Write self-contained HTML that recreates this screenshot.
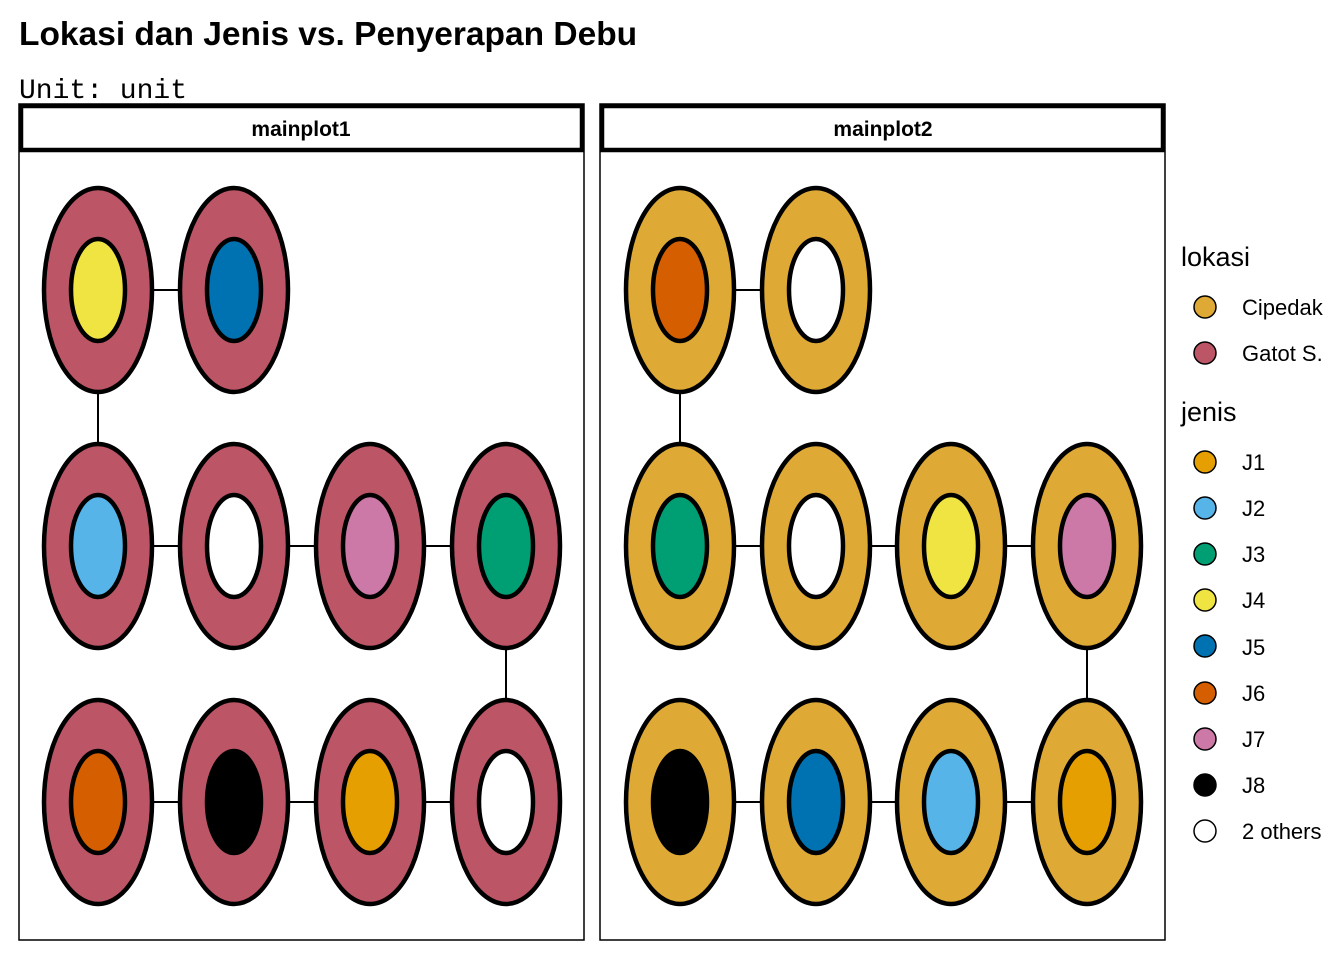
<!DOCTYPE html>
<html><head><meta charset="utf-8"><style>
html,body{margin:0;padding:0;background:#fff;}
svg{display:block;}
</style></head><body>
<svg width="1344" height="960" viewBox="0 0 1344 960" xmlns="http://www.w3.org/2000/svg">
<rect width="1344" height="960" fill="#fff"/>
<text x="19" y="45" font-family="Liberation Sans, sans-serif" font-weight="bold" font-size="33.5">Lokasi dan Jenis vs. Penyerapan Debu</text>
<text x="19" y="98" font-family="Liberation Mono, monospace" font-size="28" textLength="168" lengthAdjust="spacingAndGlyphs">Unit: unit</text>

<rect x="19" y="104" width="565" height="836" fill="none" stroke="#000" stroke-width="1.5"/>
<rect x="21" y="106" width="561" height="44" fill="#fff" stroke="#000" stroke-width="4.5"/>
<text x="301" y="136" text-anchor="middle" font-family="Liberation Sans, sans-serif" font-weight="bold" font-size="21">mainplot1</text>
<rect x="600" y="104" width="565" height="836" fill="none" stroke="#000" stroke-width="1.5"/>
<rect x="602" y="106" width="561" height="44" fill="#fff" stroke="#000" stroke-width="4.5"/>
<text x="883" y="136" text-anchor="middle" font-family="Liberation Sans, sans-serif" font-weight="bold" font-size="21">mainplot2</text>

<g stroke="#000" stroke-width="2">
<line x1="98" y1="290" x2="234" y2="290"/><line x1="98" y1="290" x2="98" y2="546"/>
<line x1="98" y1="546" x2="506" y2="546"/><line x1="506" y1="546" x2="506" y2="802"/>
<line x1="98" y1="802" x2="506" y2="802"/>
<line x1="680" y1="290" x2="816" y2="290"/><line x1="680" y1="290" x2="680" y2="546"/>
<line x1="680" y1="546" x2="1087" y2="546"/><line x1="1087" y1="546" x2="1087" y2="802"/>
<line x1="680" y1="802" x2="1087" y2="802"/>
</g>

<g stroke="#000" stroke-width="4.5">
<g fill="#BC5666">
<ellipse cx="98" cy="290" rx="54" ry="102"/><ellipse cx="234" cy="290" rx="54" ry="102"/>
<ellipse cx="98" cy="546" rx="54" ry="102"/><ellipse cx="234" cy="546" rx="54" ry="102"/><ellipse cx="370" cy="546" rx="54" ry="102"/><ellipse cx="506" cy="546" rx="54" ry="102"/>
<ellipse cx="98" cy="802" rx="54" ry="102"/><ellipse cx="234" cy="802" rx="54" ry="102"/><ellipse cx="370" cy="802" rx="54" ry="102"/><ellipse cx="506" cy="802" rx="54" ry="102"/>
</g>
<ellipse cx="98" cy="290" rx="27" ry="51" fill="#F0E442"/>
<ellipse cx="234" cy="290" rx="27" ry="51" fill="#0072B2"/>
<ellipse cx="98" cy="546" rx="27" ry="51" fill="#56B4E9"/>
<ellipse cx="234" cy="546" rx="27" ry="51" fill="#fff"/>
<ellipse cx="370" cy="546" rx="27" ry="51" fill="#CC79A7"/>
<ellipse cx="506" cy="546" rx="27" ry="51" fill="#009E73"/>
<ellipse cx="98" cy="802" rx="27" ry="51" fill="#D55E00"/>
<ellipse cx="234" cy="802" rx="27" ry="51" fill="#000"/>
<ellipse cx="370" cy="802" rx="27" ry="51" fill="#E69F00"/>
<ellipse cx="506" cy="802" rx="27" ry="51" fill="#fff"/>
<g fill="#DFA935">
<ellipse cx="680" cy="290" rx="54" ry="102"/><ellipse cx="816" cy="290" rx="54" ry="102"/>
<ellipse cx="680" cy="546" rx="54" ry="102"/><ellipse cx="816" cy="546" rx="54" ry="102"/><ellipse cx="951" cy="546" rx="54" ry="102"/><ellipse cx="1087" cy="546" rx="54" ry="102"/>
<ellipse cx="680" cy="802" rx="54" ry="102"/><ellipse cx="816" cy="802" rx="54" ry="102"/><ellipse cx="951" cy="802" rx="54" ry="102"/><ellipse cx="1087" cy="802" rx="54" ry="102"/>
</g>
<ellipse cx="680" cy="290" rx="27" ry="51" fill="#D55E00"/>
<ellipse cx="816" cy="290" rx="27" ry="51" fill="#fff"/>
<ellipse cx="680" cy="546" rx="27" ry="51" fill="#009E73"/>
<ellipse cx="816" cy="546" rx="27" ry="51" fill="#fff"/>
<ellipse cx="951" cy="546" rx="27" ry="51" fill="#F0E442"/>
<ellipse cx="1087" cy="546" rx="27" ry="51" fill="#CC79A7"/>
<ellipse cx="680" cy="802" rx="27" ry="51" fill="#000"/>
<ellipse cx="816" cy="802" rx="27" ry="51" fill="#0072B2"/>
<ellipse cx="951" cy="802" rx="27" ry="51" fill="#56B4E9"/>
<ellipse cx="1087" cy="802" rx="27" ry="51" fill="#E69F00"/>
</g>

<g font-family="Liberation Sans, sans-serif" font-size="22" fill="#000">
<text x="1181" y="266" font-size="27">lokasi</text>
<text x="1181" y="421" font-size="27">jenis</text>
<text x="1242" y="315">Cipedak</text>
<text x="1242" y="361">Gatot S.</text>
<text x="1242" y="470">J1</text>
<text x="1242" y="516">J2</text>
<text x="1242" y="562">J3</text>
<text x="1242" y="608">J4</text>
<text x="1242" y="655">J5</text>
<text x="1242" y="701">J6</text>
<text x="1242" y="747">J7</text>
<text x="1242" y="793">J8</text>
<text x="1242" y="839">2 others</text>
</g>
<g stroke="#000" stroke-width="1.5">
<circle cx="1205" cy="307" r="11" fill="#DFA935"/>
<circle cx="1205" cy="353" r="11" fill="#BC5666"/>
<circle cx="1205" cy="462" r="11" fill="#E69F00"/>
<circle cx="1205" cy="508" r="11" fill="#56B4E9"/>
<circle cx="1205" cy="554" r="11" fill="#009E73"/>
<circle cx="1205" cy="600" r="11" fill="#F0E442"/>
<circle cx="1205" cy="646" r="11" fill="#0072B2"/>
<circle cx="1205" cy="693" r="11" fill="#D55E00"/>
<circle cx="1205" cy="739" r="11" fill="#CC79A7"/>
<circle cx="1205" cy="785" r="11" fill="#000"/>
<circle cx="1205" cy="831" r="11" fill="#fff"/>
</g>
</svg>
</body></html>
